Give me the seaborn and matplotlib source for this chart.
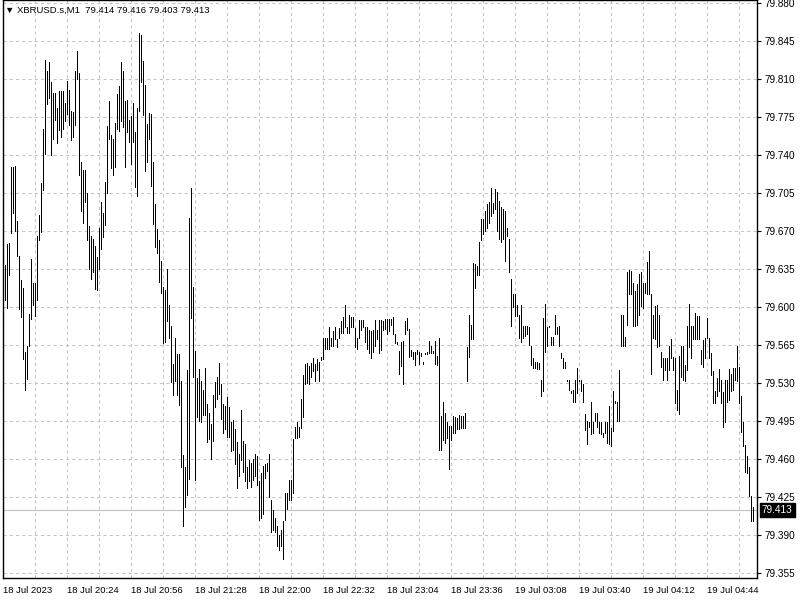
import matplotlib
matplotlib.use("Agg")
import matplotlib.pyplot as plt
import matplotlib.transforms as mtransforms
import seaborn as sns
import numpy as np
import pandas as pd

# ---- style ----
sns.set_style("white")
plt.rcParams['font.family'] = ['Liberation Sans', 'DejaVu Sans']

# ---- data (M1 bars, high / low) ----
highs = [
    79.635, 79.639, 79.658, 79.659, 79.729, 79.729, 79.730, 79.679, 79.647, 79.625,
    79.618, 79.559, 79.564, 79.594, 79.644, 79.622, 79.622, 79.666, 79.685, 79.714,
    79.764, 79.828, 79.817, 79.826, 79.807, 79.797, 79.797, 79.783, 79.799, 79.799,
    79.799, 79.788, 79.808, 79.800, 79.781, 79.780, 79.817, 79.836, 79.816, 79.734,
    79.726, 79.726, 79.705, 79.675, 79.666, 79.663, 79.656, 79.646, 79.673, 79.697,
    79.687, 79.715, 79.767, 79.790, 79.759, 79.755, 79.770, 79.796, 79.804, 79.826,
    79.817, 79.790, 79.791,
    79.772, 79.776, 79.788, 79.761, 79.783, 79.852, 79.851, 79.827, 79.805, 79.769,
    79.779, 79.778, 79.734, 79.695, 79.672, 79.662, 79.643, 79.619, 79.616, 79.635,
    79.602, 79.583, 79.548, 79.572, 79.557, 79.557, 79.532, 79.464, 79.453, 79.542,
    79.682, 79.710, 79.619, 79.560, 79.535, 79.543, 79.532, 79.524, 79.544, 79.511,
    79.503, 79.493, 79.519, 79.531, 79.536, 79.549, 79.529, 79.511, 79.509, 79.517,
    79.508, 79.494, 79.496, 79.488, 79.476, 79.465, 79.505, 79.477, 79.474, 79.453,
    79.459, 79.457, 79.460, 79.465,
    79.463, 79.440, 79.447, 79.454, 79.456, 79.457, 79.465, 79.423, 79.413, 79.406,
    79.399, 79.390, 79.395, 79.403, 79.429, 79.429, 79.441, 79.441, 79.479, 79.490,
    79.494, 79.490, 79.516, 79.538, 79.548, 79.549, 79.546, 79.549, 79.553, 79.548,
    79.552, 79.550, 79.554, 79.572, 79.572, 79.572, 79.582, 79.572, 79.578, 79.582,
    79.571, 79.581, 79.587, 79.591, 79.602, 79.582, 79.593, 79.591, 79.591, 79.581,
    79.572, 79.588, 79.588, 79.588, 79.582, 79.582, 79.579, 79.578, 79.579, 79.588,
    79.579, 79.588, 79.588, 79.587,
    79.589, 79.589, 79.589, 79.589, 79.591, 79.575, 79.568, 79.560, 79.568, 79.569,
    79.587, 79.590, 79.580, 79.561, 79.559, 79.559, 79.561, 79.559, 79.558, 79.550,
    79.558, 79.559, 79.569, 79.564, 79.560, 79.569, 79.555, 79.572, 79.500, 79.513,
    79.503, 79.494, 79.491, 79.491, 79.500, 79.499, 79.498, 79.501, 79.500, 79.500,
    79.503, 79.563, 79.593, 79.584, 79.641, 79.640, 79.638, 79.660, 79.681, 79.681,
    79.689, 79.695, 79.697, 79.710, 79.696, 79.709, 79.706, 79.698, 79.692, 79.690,
    79.689, 79.673, 79.663, 79.626,
    79.612, 79.612, 79.602, 79.593, 79.602, 79.583, 79.583, 79.583, 79.582, 79.564,
    79.553, 79.550, 79.550, 79.549, 79.533, 79.590, 79.603, 79.582, 79.583, 79.573,
    79.573, 79.593, 79.582, 79.583, 79.558, 79.553, 79.550, 79.533, 79.533, 79.523,
    79.524, 79.533, 79.544, 79.533, 79.533, 79.529, 79.502, 79.495, 79.494, 79.513,
    79.494, 79.503, 79.503, 79.494, 79.494, 79.484, 79.494, 79.494, 79.509, 79.489,
    79.523, 79.514, 79.513, 79.542, 79.593, 79.593, 79.573, 79.632, 79.634, 79.633,
    79.622, 79.615, 79.621, 79.631,
    79.632, 79.622, 79.622, 79.642, 79.652, 79.612, 79.593, 79.601, 79.602, 79.593,
    79.559, 79.553, 79.553, 79.553, 79.564, 79.571, 79.554, 79.553, 79.524, 79.555,
    79.564, 79.564, 79.547, 79.583, 79.603, 79.583, 79.583, 79.595, 79.592, 79.592,
    79.561, 79.570, 79.572, 79.590, 79.572, 79.558, 79.541, 79.523, 79.535, 79.543,
    79.533, 79.522, 79.533, 79.533, 79.543, 79.539, 79.544, 79.544, 79.564, 79.545,
    79.518, 79.494, 79.473, 79.463, 79.453, 79.426, 79.416,
]
lows = [
    79.610, 79.607, 79.599, 79.630, 79.668, 79.687, 79.670, 79.647, 79.598, 79.591,
    79.552, 79.524, 79.534, 79.564, 79.589, 79.602, 79.592, 79.607, 79.662, 79.669,
    79.708, 79.741, 79.787, 79.793, 79.740, 79.755, 79.772, 79.751, 79.763, 79.757,
    79.764, 79.771, 79.778, 79.768, 79.754, 79.757, 79.768, 79.810, 79.722, 79.689,
    79.678, 79.697, 79.662, 79.635, 79.626, 79.632, 79.617, 79.616, 79.635, 79.654,
    79.665, 79.676, 79.705, 79.755, 79.728, 79.722, 79.729, 79.764, 79.762, 79.771,
    79.766, 79.729, 79.761,
    79.752, 79.732, 79.752, 79.711, 79.702, 79.781, 79.807, 79.777, 79.725, 79.734,
    79.755, 79.712, 79.677, 79.655, 79.650, 79.623, 79.613, 79.567, 79.568, 79.587,
    79.572, 79.531, 79.519, 79.532, 79.519, 79.510, 79.453, 79.399, 79.416, 79.427,
    79.442, 79.590, 79.536, 79.441, 79.499, 79.495, 79.494, 79.501, 79.501, 79.476,
    79.479, 79.460, 79.477, 79.508, 79.516, 79.520, 79.497, 79.484, 79.488, 79.481,
    79.481, 79.468, 79.469, 79.456, 79.434, 79.445, 79.459, 79.448, 79.440, 79.434,
    79.440, 79.435, 79.441, 79.445,
    79.436, 79.404, 79.406, 79.410, 79.443, 79.449, 79.425, 79.393, 79.395, 79.393,
    79.380, 79.377, 79.380, 79.368, 79.404, 79.414, 79.423, 79.423, 79.429, 79.480,
    79.480, 79.481, 79.489, 79.499, 79.529, 79.530, 79.529, 79.536, 79.541, 79.532,
    79.542, 79.532, 79.551, 79.552, 79.562, 79.562, 79.562, 79.564, 79.564, 79.571,
    79.563, 79.572, 79.576, 79.576, 79.582, 79.576, 79.576, 79.582, 79.582, 79.563,
    79.562, 79.572, 79.579, 79.582, 79.568, 79.562, 79.558, 79.553, 79.559, 79.564,
    79.571, 79.558, 79.561, 79.579,
    79.580, 79.575, 79.578, 79.584, 79.575, 79.567, 79.566, 79.539, 79.546, 79.529,
    79.575, 79.579, 79.554, 79.555, 79.552, 79.547, 79.557, 79.548, 79.555, 79.548,
    79.557, 79.557, 79.558, 79.558, 79.558, 79.548, 79.547, 79.469, 79.469, 79.478,
    79.475, 79.480, 79.451, 79.478, 79.484, 79.484, 79.488, 79.488, 79.489, 79.489,
    79.489, 79.532, 79.554, 79.571, 79.571, 79.618, 79.630, 79.630, 79.662, 79.667,
    79.670, 79.673, 79.678, 79.684, 79.687, 79.690, 79.670, 79.663, 79.660, 79.663,
    79.643, 79.666, 79.632, 79.583,
    79.600, 79.592, 79.592, 79.572, 79.568, 79.572, 79.574, 79.575, 79.565, 79.547,
    79.544, 79.544, 79.543, 79.543, 79.518, 79.523, 79.559, 79.564, 79.582, 79.565,
    79.565, 79.575, 79.575, 79.564, 79.553, 79.544, 79.544, 79.532, 79.524, 79.521,
    79.513, 79.513, 79.521, 79.532, 79.523, 79.513, 79.487, 79.474, 79.490, 79.483,
    79.484, 79.495, 79.490, 79.484, 79.483, 79.481, 79.484, 79.475, 79.474, 79.472,
    79.486, 79.512, 79.495, 79.495, 79.564, 79.564, 79.564, 79.584, 79.612, 79.612,
    79.583, 79.583, 79.584, 79.593,
    79.601, 79.599, 79.613, 79.612, 79.612, 79.539, 79.572, 79.571, 79.563, 79.564,
    79.545, 79.533, 79.542, 79.533, 79.542, 79.553, 79.542, 79.512, 79.505, 79.502,
    79.536, 79.533, 79.532, 79.542, 79.563, 79.553, 79.571, 79.571, 79.571, 79.571,
    79.548, 79.545, 79.553, 79.572, 79.553, 79.538, 79.512, 79.512, 79.518, 79.523,
    79.512, 79.490, 79.494, 79.513, 79.515, 79.523, 79.524, 79.533, 79.532, 79.512,
    79.485, 79.472, 79.448, 79.447, 79.426, 79.403, 79.403,
]

price_ticks = [79.355, 79.390, 79.425, 79.460, 79.495, 79.530, 79.565, 79.600,
               79.635, 79.670, 79.705, 79.740, 79.775, 79.810, 79.845, 79.880]
time_bars = [0, 32, 64, 96, 128, 160, 192, 224, 256, 288, 320, 352]
time_labels = ["18 Jul 2023", "18 Jul 20:24", "18 Jul 20:56", "18 Jul 21:28",
               "18 Jul 22:00", "18 Jul 22:32", "18 Jul 23:04", "18 Jul 23:36",
               "19 Jul 03:08", "19 Jul 03:40", "19 Jul 04:12", "19 Jul 04:44"]
grid_bars = [16, 48, 80, 112, 144, 176, 208, 240, 272, 304, 336, 368]
last_price = 79.413
header = "\u25bc XBRUSD.s,M1  79.414 79.416 79.403 79.413"

df = pd.DataFrame({"bar": np.arange(len(highs)), "high": highs, "low": lows})

# ---- figure ----
fig = plt.figure(figsize=(8, 6), dpi=100)
ax = fig.add_axes([3 / 800, 22 / 600, 754 / 800, 578 / 600])

ax.set_xlim(-0.15, 376.85)
ax.set_ylim(79.3508, 79.8828)

grid_kw = dict(color="#c4c4c4", linestyle=(0, (3, 3)), linewidth=0.75)
ax.set_xticks(time_bars)
ax.set_xticks(grid_bars, minor=True)
ax.set_yticks(price_ticks)
ax.grid(True, which="both", **grid_kw)
ax.set_axisbelow(True)

# current price line
ax.axhline(last_price, color="#c0c0c0", linewidth=0.8, zorder=1)

# bars (1 px wide hi-lo lines)
ax.vlines(df["bar"], df["low"], df["high"], color="black", linewidth=0.55,
          antialiased=False, zorder=3)

# axes text
ax.set_xticklabels(time_labels, ha="left", fontsize=6.8)
ax.set_yticklabels([f"{p:.3f}" for p in price_ticks], fontsize=7.2)
ax.yaxis.tick_right()
ax.tick_params(axis="x", which="major", direction="out", length=4, width=0.8,
               pad=2, colors="black")
ax.tick_params(axis="x", which="minor", length=0)
ax.tick_params(axis="y", direction="out", length=3, width=0.8, pad=2.5,
               colors="black")
for sp in ax.spines.values():
    sp.set_visible(True)
    sp.set_color("black")
    sp.set_linewidth(1.0)

# last price tag
trans = mtransforms.blended_transform_factory(ax.transAxes, ax.transData)
ax.text(1.0 + 5 / 754, last_price, f"{last_price:.3f}", transform=trans,
        fontsize=7.2, color="white", ha="left", va="center", clip_on=False,
        bbox=dict(boxstyle="square,pad=0.2", fc="black", ec="black"))

fig.text(5 / 800, 1 - 10 / 600, header, fontsize=6.8, color="black",
         ha="left", va="center")

fig.savefig("out.png", dpi=100)
